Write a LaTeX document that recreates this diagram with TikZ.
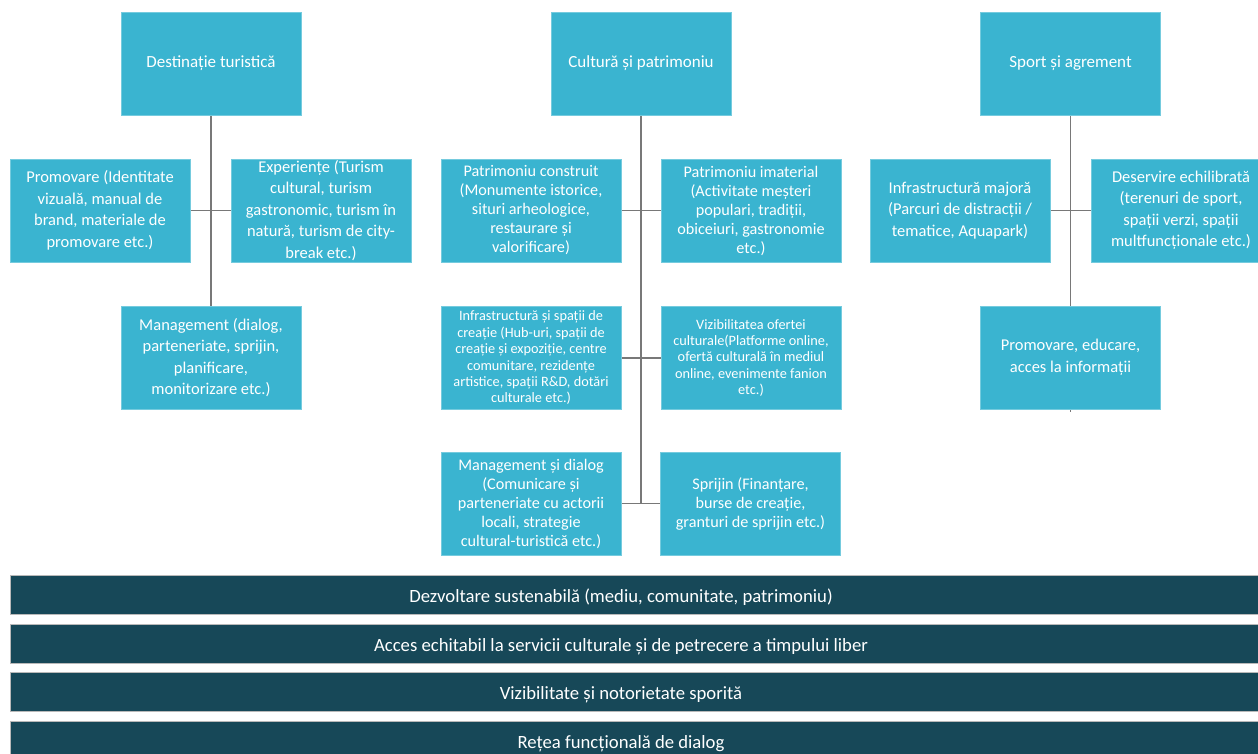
\documentclass[tikz,border=0pt]{standalone}
\usepackage{fontspec}
\setmainfont{Carlito}
\usetikzlibrary{backgrounds}
\definecolor{boxblue}{RGB}{58,180,208}
\definecolor{bardark}{RGB}{23,72,88}
\definecolor{linegray}{RGB}{120,120,120}
\tikzset{
  x=1pt,y=-1pt,
  box/.style={rectangle, fill=boxblue, draw=boxblue!70!white, line width=0.6pt,
    minimum width=180pt, minimum height=103pt, inner sep=0pt,
    align=center, text=white, font=\fontsize{16.5}{21.5}\selectfont},
  titlebox/.style={box, font=\fontsize{17}{21.5}\selectfont},
  midbox/.style={box, font=\fontsize{16.2}{19}\selectfont},
  smallbox/.style={box, font=\fontsize{14.3}{16.4}\selectfont},
  bar/.style={rectangle, fill=bardark, draw=gray!55, line width=0.8pt,
    minimum width=1260pt, minimum height=39pt, inner sep=0pt,
    text height=16pt, text depth=0pt,
    text=white, font=\fontsize{18.7}{22}\selectfont,
    execute at begin node={\hspace*{-38pt}}},
  conn/.style={draw=linegray, line width=1.3pt}
}
\begin{document}
\begin{tikzpicture}
\useasboundingbox (0,0) rectangle (1258,753);
% top level
\node[titlebox] (d1) at (211,63.5) {Destinație turistică};
\node[titlebox] (c1) at (641,63.5) {Cultură și patrimoniu};
\node[titlebox] (s1) at (1070.5,63.5) {Sport și agrement};
% left
\node[box] (d2) at (100,210.5) {Promovare (Identitate\\ vizuală, manual de\\ brand, materiale de\\ promovare etc.)};
\node[box] (d3) at (321,210.5) {Experiențe (Turism\\ cultural, turism\\ gastronomic, turism în\\ natură, turism de city-\\ break etc.)};
\node[box] (d4) at (211,357.5) {Management (dialog,\\ parteneriate, sprijin,\\ planificare,\\ monitorizare etc.)};
% middle
\node[midbox] (c2) at (531,210.5) {Patrimoniu construit\\ (Monumente istorice,\\ situri arheologice,\\ restaurare și\\ valorificare)};
\node[midbox] (c3) at (751,210.5) {Patrimoniu imaterial\\ (Activitate meșteri\\ populari, tradiții,\\ obiceiuri, gastronomie\\ etc.)};
\node[smallbox] (c4) at (531,358) {Infrastructură și spații de\\ creație (Hub-uri, spații de\\ creație și expoziție, centre\\ comunitare, rezidențe\\ artistice, spații R\&D, dotări\\ culturale etc.)};
\node[smallbox] (c5) at (751,358) {Vizibilitatea ofertei\\ culturale(Platforme online,\\ ofertă culturală în mediul\\ online, evenimente fanion\\ etc.)};
\node[midbox] (c6) at (531,503.5) {Management și dialog\\ (Comunicare și\\ parteneriate cu actorii\\ locali, strategie\\ cultural-turistică etc.)};
\node[midbox] (c7) at (750.5,503.5) {Sprijin (Finanțare,\\ burse de creație,\\ granturi de sprijin etc.)};
% right
\node[box] (s2) at (960,210.5) {Infrastructură majoră\\ (Parcuri de distracții /\\ tematice, Aquapark)};
\node[box] (s3) at (1181,210.5) {Deservire echilibrată\\ (terenuri de sport,\\ spații verzi, spații\\ multfuncționale etc.)};
\node[box] (s4) at (1070.5,357.5) {Promovare, educare,\\ acces la informații};
\coordinate (s5) at (1070.5,412);
% bars
\node[bar] (b1) at (640,594.5) {Dezvoltare sustenabilă (mediu, comunitate, patrimoniu)};
\node[bar] (b2) at (640,643.5) {Acces echitabil la servicii culturale și de petrecere a timpului liber};
\node[bar] (b3) at (640,691.5) {Vizibilitate și notorietate sporită};
\node[bar] (b4) at (640,740.5) {Rețea funcțională de dialog};
% connectors
\begin{scope}[on background layer]
\draw[conn] (d1.south) -- (d4.north);
\draw[conn] (d2.east) -- (d3.west);
\draw[conn] (c1.south) -- (c1.south |- c6.east);
\draw[conn] (c2.east) -- (c3.west);
\draw[conn] (c4.east) -- (c5.west);
\draw[conn] (c6.east) -- (c7.west);
\draw[conn] (s1.south) -- (s5);
\draw[conn] (s2.east) -- (s3.west);
\end{scope}
\end{tikzpicture}
\end{document}
